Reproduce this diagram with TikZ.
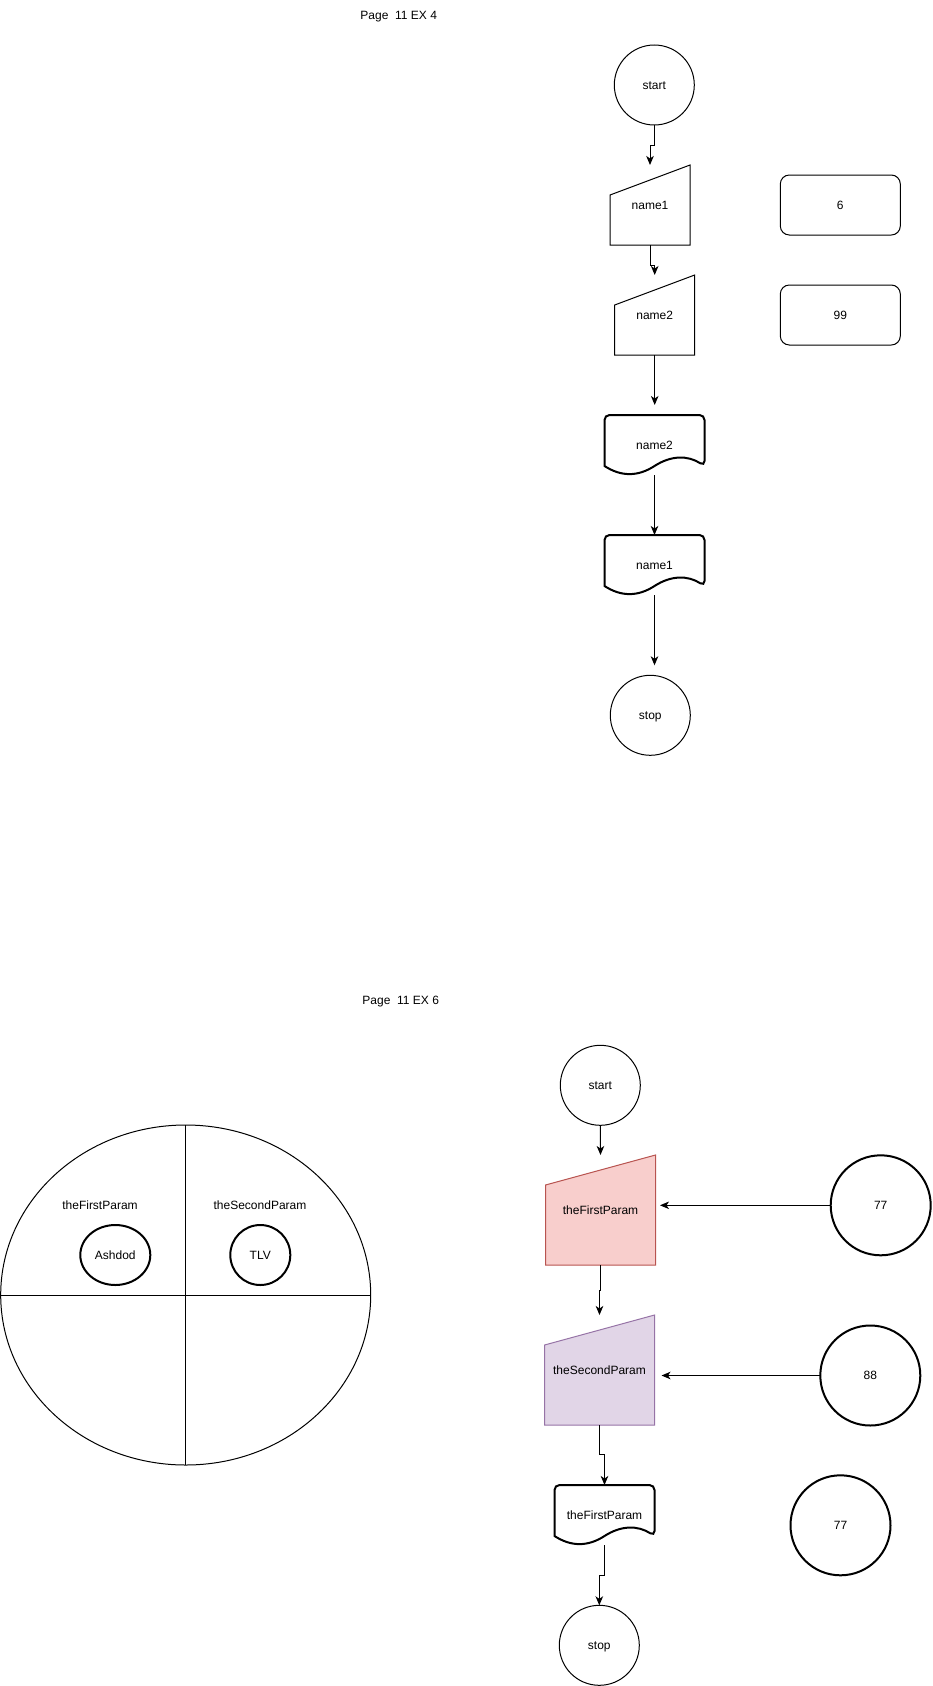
\documentclass[tikz,border=0pt]{standalone}
\usepackage{fontspec}
\setmainfont{Liberation Sans}
\usetikzlibrary{arrows.meta,shapes.geometric,backgrounds}

\definecolor{redfill}{HTML}{F8CECC}
\definecolor{redline}{HTML}{B85450}
\definecolor{purplefill}{HTML}{E1D5E7}
\definecolor{purpleline}{HTML}{9673A6}

\tikzset{
	every node/.style={font=\fontsize{12}{14}\selectfont, inner sep=0pt, outer sep=0pt,
		text height=10.9pt, text depth=2.5pt},
	flow/.style={line width=1pt, -{Stealth[length=9pt,width=7.5pt,inset=2.5pt]}},
	term/.style={circle, draw, line width=1pt, minimum size=80pt},
	bigval/.style={circle, draw, line width=2pt, minimum size=100pt},
	valbox/.style={rectangle, draw, line width=1pt, rounded corners=9pt,
		minimum width=120pt, minimum height=60pt},
	inshape/.style={rectangle, minimum width=#1, minimum height=#1},
	docshape/.style={rectangle, minimum width=100pt, minimum height=60pt},
	cityval/.style={ellipse, draw, line width=2pt, minimum height=60pt}}

% manual input outline round a node
\newcommand{\inpath}[2][]{%
	\draw[line width=1pt,#1] (#2.south west) -- ([yshift=-30pt]#2.north west)
		-- (#2.north east) -- (#2.south east) -- cycle;}
% document outline round a node
\newcommand{\docpath}[1]{%
	\draw[line width=2pt] ([yshift=-51pt]#1.north west) [rounded corners=5pt]
		-- (#1.north west) -- (#1.north east) -- ([yshift=-51pt]#1.north east) [sharp corners]
		.. controls +(-16.67,-10.8) and +(16.67,-10.8) .. ([shift={(50pt,-51pt)}]#1.north west)
		.. controls +(-16.67,10.8) and +(16.67,10.8) .. ([yshift=-51pt]#1.north west) -- cycle;}

\begin{document}
\begin{tikzpicture}[x=1pt,y=-1pt]
\useasboundingbox (0,0) rectangle (932,1686);

% Page 11 EX 4
\node (title4) at (398.7,15) {Page\ \ 11 EX 4};
\node[term] (start4) at (654.3,85) {start};
\node[inshape=80pt] (name1in) at (650,205) {name1};
\node[inshape=80pt] (name2in) at (654.7,315) {name2};
\node[valbox] (six) at (840.3,205) {6};
\node[valbox] (ninetynine) at (840.3,315) {99};
\node[docshape] (name2out) at (654.5,445) {name2};
\node[docshape] (name1out) at (654.5,565) {name1};
\node[term] (stop4) at (650.3,715.3) {stop};

\draw[flow] (start4.south) -- ++(0,20) -| (name1in.north);
\draw[flow] (name1in.south) -- ++(0,20) -| (name2in.north);
\draw[flow, shorten >=10pt] (name2in.south) -- (name2in.south |- name2out.north);
\draw[flow] (name2out.south) -- (name1out.north);
\draw[flow, shorten >=10pt] (name1out.south) -- (name1out.south |- stop4.north);

% Page 11 EX 6
\node (title6) at (400.7,1000) {Page\ \ 11 EX 6};
\node[ellipse, draw, line width=1pt, minimum width=370pt, minimum height=340pt] (mem) at (185.7,1295) {};
\draw[line width=1pt] (mem.north) -- (mem.south);
\draw[line width=1pt] (mem.west) -- (mem.east);
\node (firstlbl) at (100,1205) {theFirstParam};
\node (secondlbl) at (260,1205) {theSecondParam};
\node[cityval, minimum width=70pt] (ashdod) at (115.3,1255) {Ashdod};
\node[cityval, minimum width=60pt] (tlv) at (260.3,1255) {TLV};

\node[term] (start6) at (600.3,1085.3) {start};
\node[inshape=110pt] (firstin) at (600.5,1210) {theFirstParam};
\node[inshape=110pt] (secondin) at (599.5,1370) {theSecondParam};
\node[docshape] (firstout) at (604.5,1515) {theFirstParam};
\node[term] (stop6) at (599.3,1645.3) {stop};
\node[bigval] (seventyseven) at (880.7,1205.3) {77};
\node[bigval] (eightyeight) at (870.3,1375.5) {88};
\node[bigval] (seventyseven2) at (840.5,1525.3) {77};

\draw[flow] (start6.south) -- (firstin.north);
\draw[flow, shorten >=4.5pt] (seventyseven.west) -- (seventyseven.west -| firstin.east);
\draw[flow] (firstin.south) -- ++(0,25) -| (secondin.north);
\draw[flow, shorten >=7pt] (eightyeight.west) -- (eightyeight.west -| secondin.east);
\draw[flow] (secondin.south) -- ++(0,29) -| (firstout.north);
\draw[flow] (firstout.south) -- ++(0,30) -| (stop6.north);

\begin{scope}[on background layer]
	\inpath{name1in}
	\inpath{name2in}
	\inpath[fill=redfill, draw=redline]{firstin}
	\inpath[fill=purplefill, draw=purpleline]{secondin}
	\docpath{name2out}
	\docpath{name1out}
	\docpath{firstout}
\end{scope}
\end{tikzpicture}
\end{document}
